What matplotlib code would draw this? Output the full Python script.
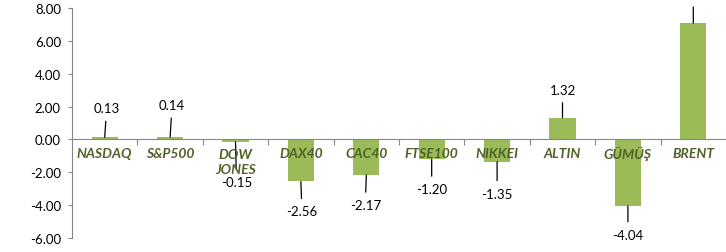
import numpy as np
import matplotlib
matplotlib.use("Agg")
import matplotlib.pyplot as plt

categories = ["NASDAQ", "S&P500", "DOW\nJONES", "DAX40", "CAC40",
              "FTSE100", "NIKKEI", "ALTIN", "GÜMÜŞ", "BRENT"]
changes = [0.13, 0.14, -0.15, -2.56, -2.17, -1.20, -1.35, 1.32, -4.04, 7.08]
# label offsets (pixels) relative to the bar end
label_dx = [2, 2, 1, 1, -1, 0, 0, 0, 0, 0]
label_dy = [29, 32, -40, -30, -30, -30, -32, 28, -29, 29]

BAR_GREEN = "#9BBB59"
TEXT_GREEN = "#4F6228"
AXIS_GREY = "#868686"

plt.rcParams["font.family"] = ["Lato", "DejaVu Sans"]

fig = plt.figure(figsize=(7.26, 2.53), dpi=100)
ax = fig.add_axes([72 / 726, 14 / 253, 1 - 72 / 726, 230 / 253])

x = np.arange(len(categories))
ax.bar(x, changes, width=0.4, color=BAR_GREEN, zorder=2)

ax.set_xlim(-0.5, len(categories) - 0.5)
ax.set_ylim(-6, 8)
ax.set_yticks(np.arange(-6, 9, 2))
ax.set_yticklabels([f"{v:.2f}" for v in np.arange(-6, 9, 2)], fontsize=9.5)
ax.tick_params(axis="y", length=3, color=AXIS_GREY, pad=5)

ax.spines["top"].set_visible(False)
ax.spines["right"].set_visible(False)
ax.spines["left"].set_color(AXIS_GREY)
ax.spines["bottom"].set_color(AXIS_GREY)
ax.spines["bottom"].set_position(("data", 0))
ax.spines["bottom"].set_zorder(3)

# category boundary ticks on the zero line
ax.set_xticks(x[:-1] + 0.5)
ax.set_xticklabels([])
ax.tick_params(axis="x", length=4, color=AXIS_GREY, direction="out")

for i, name in enumerate(categories):
    off = -22 if "\n" in name else -14
    ax.annotate(name, xy=(i, 0), xytext=(0, off), textcoords="offset pixels",
                ha="center", va="center", fontsize=10, fontweight="bold",
                fontstyle="italic", color=TEXT_GREEN, linespacing=1.25,
                zorder=4)

for i, v in enumerate(changes):
    ax.annotate(f"{v:.2f}", xy=(i, v),
                xytext=(label_dx[i], label_dy[i]), textcoords="offset pixels",
                ha="center", va="center", fontsize=9.5, color="black",
                annotation_clip=False,
                arrowprops=dict(arrowstyle="-", color="black", lw=0.9,
                                shrinkA=3, shrinkB=0))

plt.savefig("out.png", dpi=100)
